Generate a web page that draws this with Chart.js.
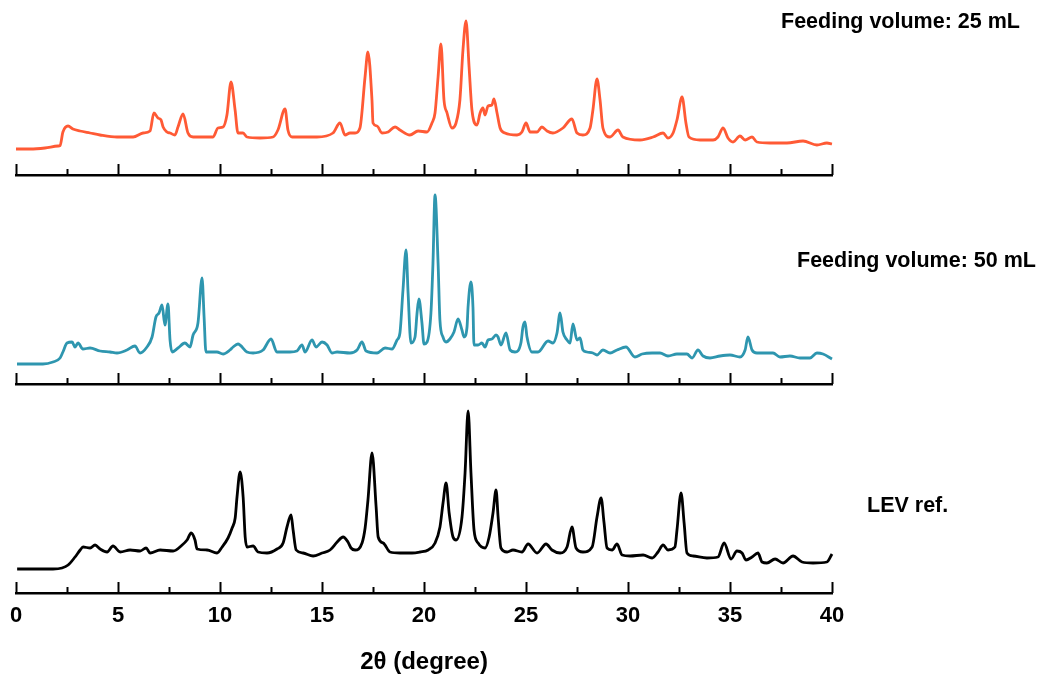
<!DOCTYPE html>
<html>
<head>
<meta charset="utf-8">
<script src="https://cdn.jsdelivr.net/npm/chart.js@4.4.1/dist/chart.umd.min.js"></script>
<style>
  body { margin: 0; background: #fff; }
  #wrap { position: relative; width: 1041px; height: 677px; overflow: hidden; }
  canvas { position: absolute; left: 0; }
  .lbl {
    position: absolute;
    font-family: "Liberation Sans", Arial, sans-serif;
    font-weight: bold;
    font-size: 21.5px;
    line-height: 21px;
    white-space: nowrap;
    color: #000;
  }
</style>
</head>
<body>
<div id="wrap">
  <canvas id="c25" width="1041" height="180" style="top:0px"></canvas>
  <canvas id="c50" width="1041" height="214" style="top:175px"></canvas>
  <canvas id="cLev" width="1041" height="293" style="top:384px"></canvas>
  <div class="lbl" style="left:781px;top:11px">Feeding volume: 25 mL</div>
  <div class="lbl" style="left:797px;top:250px">Feeding volume: 50 mL</div>
  <div class="lbl" style="left:867px;top:495px">LEV ref.</div>
</div>

<script>
// 2theta (degree) and intensity (a.u.)

// feeding volume 25 mL
const tt25 = [0, 0.69, 1.42, 2.06, 2.16, 2.30, 2.55, 2.79, 3.14, 3.63,
  4.12, 4.95, 5.74, 6.23, 6.57, 6.76, 6.96, 7.11, 7.21, 7.40,
  7.55, 7.79, 7.94, 8.19, 8.43, 8.68, 9.66, 9.90, 10.15, 10.34,
  10.54, 10.74, 10.88, 11.13, 11.32, 11.96, 12.60, 12.84, 13.19, 13.33,
  13.53, 14.75, 15.54, 15.88, 16.13, 16.37, 16.62, 16.86, 17.11, 17.25,
  17.45, 17.50, 17.70, 17.94, 18.24, 18.58, 18.82, 19.31, 19.71, 20.15,
  20.39, 20.54, 20.69, 20.83, 20.98, 21.13, 21.37, 21.57, 21.76, 21.91,
  22.06, 22.21, 22.35, 22.60, 22.75, 22.89, 22.99, 23.14, 23.33, 23.43,
  23.58, 23.73, 23.97, 24.56, 24.80, 25.00, 25.20, 25.54, 25.78, 26.03,
  26.32, 26.81, 27.25, 27.50, 27.79, 28.14, 28.28, 28.48, 28.63, 28.77,
  29.12, 29.51, 29.75, 30.59, 31.23, 31.72, 31.96, 32.21, 32.40, 32.65,
  32.84, 32.99, 33.53, 34.17, 34.41, 34.66, 34.90, 35.15, 35.49, 35.74,
  36.08, 36.32, 36.96, 37.79, 38.58, 39.26, 39.75, 40];
const int25 = [26, 26, 27, 29, 29.5, 43, 49, 46, 44, 42,
  40, 38, 38, 42, 44, 62, 57, 55, 48, 43,
  42, 40, 48, 61, 42, 38, 38, 47, 48, 60,
  93, 65, 42, 42, 38, 37, 38, 45, 66, 45,
  38, 38, 42, 52, 40, 42, 42, 47, 98, 123,
  75, 52, 49, 42, 43, 48, 45, 40, 44, 43,
  52, 62, 98, 131, 75, 62, 47, 52, 75, 125,
  154, 108, 65, 50, 62, 67, 60, 69, 70, 76,
  62, 47, 42, 40, 43, 52, 43, 43, 48, 44,
  42, 47, 56, 42, 40, 47, 65, 96, 75, 47,
  38, 45, 38, 35, 38, 42, 37, 42, 55, 78,
  52, 38, 35, 35, 38, 47, 37, 33, 39, 35,
  38, 33, 32, 32, 34, 30, 32, 31];

// feeding volume 50 mL
const tt50 = [0.05, 1.32, 1.81, 2.16, 2.30, 2.50, 2.75, 2.89, 3.04, 3.28,
  3.63, 4.12, 4.61, 4.95, 5.44, 5.83, 6.08, 6.42, 6.67, 6.86,
  7.01, 7.16, 7.30, 7.45, 7.55, 7.65, 7.94, 8.28, 8.53, 8.68,
  8.92, 9.12, 9.22, 9.31, 9.85, 10.15, 10.49, 10.64, 10.88, 11.32,
  11.62, 12.11, 12.50, 12.79, 13.43, 13.77, 14.02, 14.17, 14.51, 14.71,
  15.00, 15.25, 15.49, 15.74, 16.37, 16.72, 16.96, 17.16, 17.70, 18.09,
  18.43, 18.68, 18.82, 18.97, 19.12, 19.22, 19.36, 19.56, 19.66, 19.75,
  19.90, 20.00, 20.15, 20.34, 20.44, 20.54, 20.69, 20.78, 20.93, 21.08,
  21.27, 21.47, 21.67, 21.86, 21.96, 22.11, 22.16, 22.30, 22.40, 22.45,
  22.65, 22.84, 22.99, 23.14, 23.33, 23.53, 23.63, 23.77, 24.02, 24.22,
  24.46, 24.75, 24.85, 24.95, 25.05, 25.29, 25.59, 26.08, 26.32, 26.52,
  26.67, 26.81, 27.01, 27.16, 27.30, 27.50, 27.65, 27.79, 27.99, 28.28,
  28.48, 28.77, 29.12, 29.46, 29.90, 30.34, 30.69, 31.18, 31.57, 31.96,
  32.40, 32.89, 33.14, 33.43, 33.68, 34.02, 34.51, 35.00, 35.49, 35.74,
  35.88, 36.08, 36.32, 36.62, 37.11, 37.45, 37.94, 38.43, 38.92, 39.26,
  39.56, 40.00];
const int50 = [20, 20, 22, 26, 32, 41, 42, 37, 41, 35,
  36, 33, 32, 31, 34, 38, 31, 37, 47, 67,
  71, 79, 59, 80, 44, 32, 36, 41, 37, 49,
  61, 106, 67, 32, 32, 30, 34, 37, 40, 32,
  31, 34, 45, 32, 32, 33, 39, 32, 44, 37,
  42, 39, 31, 32, 31, 34, 42, 33, 31, 36,
  35, 44, 51, 94, 134, 91, 41, 47, 71, 85,
  61, 40, 42, 71, 121, 189, 121, 64, 47, 42,
  45, 52, 65, 54, 47, 57, 77, 102, 77, 39,
  39, 41, 37, 44, 45, 49, 47, 39, 51, 34,
  32, 41, 57, 62, 47, 32, 32, 43, 41, 51,
  71, 52, 44, 41, 60, 44, 46, 34, 32, 31,
  29, 34, 31, 34, 37, 27, 30, 31, 31, 28,
  30, 30, 26, 34, 28, 26, 28, 29, 27, 34,
  47, 34, 31, 31, 31, 27, 28, 26, 26, 31,
  30, 25];

// LEV reference
const ttLev = [0.05, 1.81, 2.25, 2.55, 2.89, 3.14, 3.28, 3.63, 3.87, 4.12,
  4.46, 4.75, 5.10, 5.59, 6.08, 6.37, 6.57, 7.06, 7.70, 8.14,
  8.38, 8.58, 8.77, 8.87, 9.36, 9.85, 10.10, 10.39, 10.59, 10.74,
  10.83, 10.98, 11.13, 11.23, 11.32, 11.62, 11.86, 12.30, 12.79, 13.09,
  13.28, 13.48, 13.58, 13.73, 14.07, 14.56, 15.00, 15.39, 15.74, 16.03,
  16.27, 16.42, 16.62, 16.96, 17.11, 17.25, 17.45, 17.65, 17.75, 18.00,
  18.33, 18.82, 19.41, 19.80, 20.20, 20.54, 20.78, 20.93, 21.08, 21.23,
  21.42, 21.57, 21.86, 22.01, 22.16, 22.30, 22.45, 22.65, 22.99, 23.19,
  23.38, 23.53, 23.63, 23.77, 24.07, 24.36, 24.80, 25.10, 25.54, 25.98,
  26.27, 26.67, 27.01, 27.25, 27.45, 27.79, 28.24, 28.48, 28.68, 28.82,
  28.97, 29.22, 29.46, 29.71, 30.10, 30.74, 31.18, 31.47, 31.72, 31.96,
  32.30, 32.40, 32.60, 32.75, 32.89, 33.19, 33.87, 34.41, 34.71, 35.05,
  35.34, 35.59, 35.78, 36.08, 36.37, 36.57, 36.81, 37.21, 37.60, 38.09,
  38.53, 39.07, 39.75, 40.00];
const intLev = [24, 24, 25, 28, 36, 43, 46, 45, 48, 44,
  41, 47, 41, 43, 42, 45, 40, 43, 42, 48,
  53, 60, 53, 44, 43, 40, 46, 55, 65, 75,
  96, 121, 96, 56, 46, 47, 41, 40, 44, 50,
  66, 78, 63, 43, 40, 37, 40, 43, 51, 56,
  51, 45, 43, 50, 65, 93, 140, 86, 56, 50,
  41, 40, 40, 41, 43, 50, 66, 90, 110, 80,
  56, 53, 76, 120, 182, 120, 63, 50, 45, 56,
  80, 103, 76, 45, 41, 43, 41, 49, 40, 49,
  43, 40, 46, 66, 45, 41, 46, 76, 95, 71,
  45, 43, 49, 38, 37, 38, 35, 41, 48, 43,
  46, 63, 100, 70, 40, 37, 35, 36, 50, 34,
  42, 40, 33, 36, 40, 31, 30, 34, 30, 37,
  31, 30, 31, 39];

// x axis tick marks
const majorTicks = [0, 5, 10, 15, 20, 25, 30, 35, 40];
const minorTicks = [2.5, 7.5, 12.5, 17.5, 22.5, 27.5, 32.5, 37.5];

Chart.defaults.font.family = '"Liberation Sans", Arial, sans-serif';
Chart.defaults.color = "#000";

// draws the inward tick marks on the x axis line
const tickMarks = {
  id: "tickMarks",
  afterDraw(chart) {
    const xs = chart.scales.x;
    const ctx = chart.ctx;
    const base = chart.chartArea.bottom;
    ctx.save();
    ctx.strokeStyle = "#000";
    ctx.lineWidth = 2;
    majorTicks.forEach((v) => {
      const px = Math.round(xs.getPixelForValue(v)) + 0.5;
      ctx.beginPath();
      ctx.moveTo(px, base);
      ctx.lineTo(px, base - 11);
      ctx.stroke();
    });
    minorTicks.forEach((v) => {
      const px = Math.round(xs.getPixelForValue(v)) + 0.5;
      ctx.beginPath();
      ctx.moveTo(px, base);
      ctx.lineTo(px, base - 6);
      ctx.stroke();
    });
    ctx.restore();
  },
};

function makePanel(id, tt, vals, color, yMax, showLabels, xHeight, padBottom) {
  const points = tt.map((t, i) => ({ x: t, y: vals[i] }));
  return new Chart(document.getElementById(id), {
    type: "line",
    data: {
      datasets: [
        {
          data: points,
          borderColor: color,
          borderWidth: 2.8,
          pointRadius: 0,
          cubicInterpolationMode: "monotone",
          fill: false,
          clip: false,
        },
      ],
    },
    options: {
      responsive: false,
      animation: false,
      devicePixelRatio: 1,
      layout: { padding: { left: 16, right: 209, top: 0, bottom: padBottom } },
      plugins: { legend: { display: false }, tooltip: { enabled: false } },
      scales: {
        x: {
          type: "linear",
          min: 0,
          max: 40,
          grid: { display: false, drawTicks: false },
          border: { display: true, color: "#000", width: 2.5 },
          ticks: {
            display: showLabels,
            stepSize: 5,
            padding: 10,
            maxRotation: 0,
            color: "#000",
            font: { size: 22, weight: "bold" },
          },
          title: {
            display: showLabels,
            text: "2θ (degree)",
            color: "#000",
            font: { size: 24, weight: "bold" },
            padding: { top: 0, bottom: 0 },
          },
          afterFit: (scale) => {
            scale.height = xHeight;
          },
        },
        y: { display: false, min: 0, max: yMax },
      },
    },
    plugins: [tickMarks],
  });
}

makePanel("c25", tt25, int25, "#FF5A35", 175, false, 0, 5);
makePanel("c50", tt50, int50, "#2E96AF", 209, false, 0, 5);
makePanel("cLev", ttLev, intLev, "#000000", 209, true, 84, 0);
</script>
</body>
</html>
